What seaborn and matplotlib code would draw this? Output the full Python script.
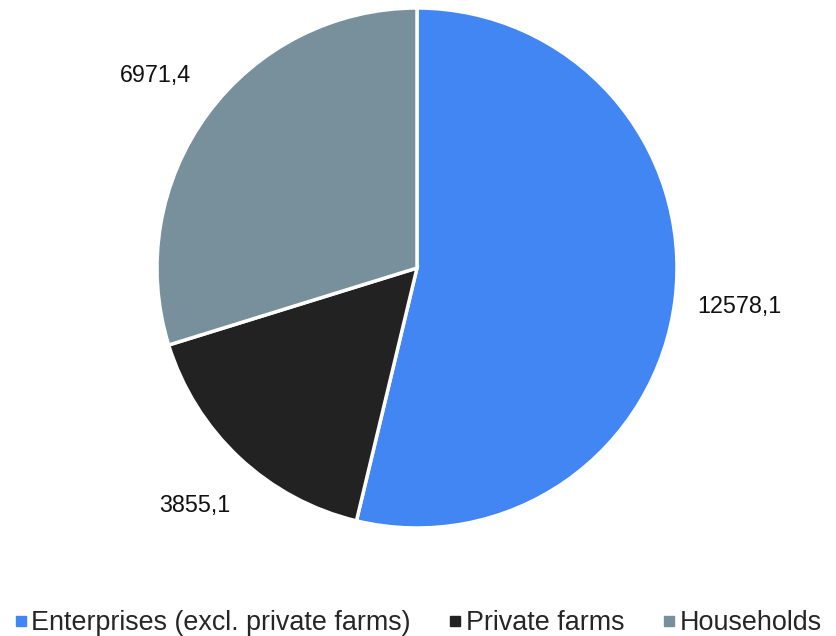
import matplotlib
matplotlib.use("Agg")
import matplotlib.pyplot as plt
import seaborn as sns
from matplotlib.lines import Line2D

categories = ["Enterprises (excl. private farms)", "Private farms", "Households"]
values = [12578.1, 3855.1, 6971.4]
value_labels = ["12578,1", "3855,1", "6971,4"]
colors = sns.color_palette(["#4286f4", "#222222", "#78909c"])

sns.set_theme(style="white")
plt.rcParams["font.family"] = ["Liberation Sans", "DejaVu Sans"]

fig = plt.figure(figsize=(8.37, 6.36), dpi=100)
W, H = 837, 636
cx, cy, r = 417, 268, 260
ax = fig.add_axes([(cx - r) / W, (H - cy - r) / H, 2 * r / W, 2 * r / H])

wedges, texts = ax.pie(
    values,
    colors=colors,
    startangle=90,
    counterclock=False,
    labels=value_labels,
    labeldistance=1.25,
    radius=1.0,
    wedgeprops=dict(edgecolor="white", linewidth=2.5),
    textprops=dict(fontsize=16.8, color="#111111"),
)
for t in texts:
    t.set_ha("center")
    t.set_va("center")
ax.set_xlim(-1, 1)
ax.set_ylim(-1, 1)
ax.set_aspect("equal")
ax.axis("off")

handles = [
    Line2D([0], [0], marker="s", linestyle="none", markersize=6.5,
           markerfacecolor=c, markeredgecolor=c)
    for c in colors
]
fig.legend(
    handles, categories,
    loc="center", bbox_to_anchor=(0.5, 1 - 623 / H),
    ncol=3, frameon=False, fontsize=19.4,
    handlelength=0.4, handletextpad=0.2, columnspacing=1.45,
    borderpad=0, borderaxespad=0,
)

fig.savefig("out.png", dpi=100)
